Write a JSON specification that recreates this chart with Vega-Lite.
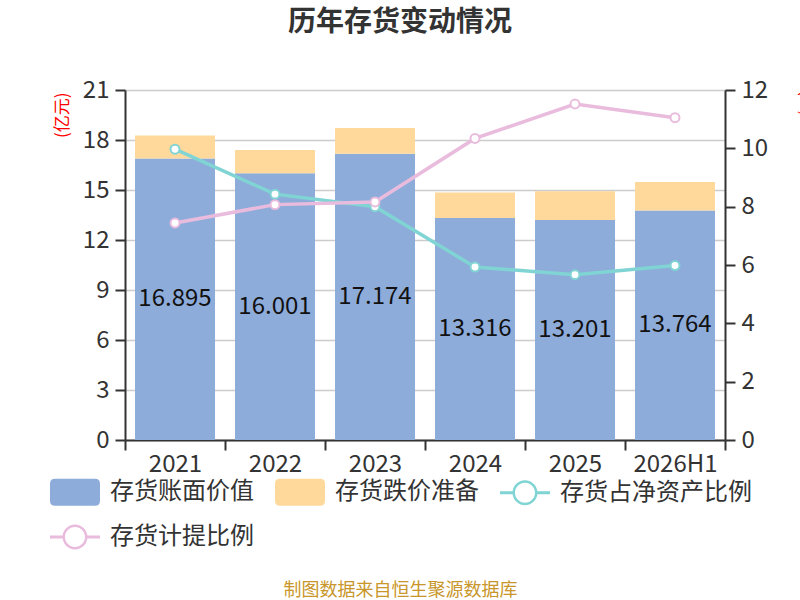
{
  "$schema": "https://vega.github.io/schema/vega-lite/v6.json",
  "autosize": {"type": "none"},
  "width": 600,
  "height": 350,
  "padding": {"left": 125, "top": 90, "right": 75, "bottom": 160},
  "background": "white",
  "config": {
    "font": "Noto Sans CJK SC",
    "view": {"stroke": null},
    "axis": {
      "labelFont": "Noto Sans CJK SC",
      "labelFontSize": 24,
      "labelColor": "#333333",
      "domainColor": "#333333",
      "domainWidth": 2,
      "tickColor": "#333333",
      "tickWidth": 2,
      "tickSize": 10,
      "titleFont": "Noto Sans CJK SC",
      "titleFontWeight": "normal"
    }
  },
  "title": {
    "text": "历年存货变动情况",
    "fontSize": 28,
    "fontWeight": "bold",
    "color": "#333333",
    "anchor": "middle",
    "dx": -25,
    "offset": 41
  },
  "data": {
    "values": [
      {"年份": "2021", "存货账面价值": 16.895, "存货跌价准备": 1.37, "存货占净资产比例": 9.97, "存货计提比例": 7.44},
      {"年份": "2022", "存货账面价值": 16.001, "存货跌价准备": 1.40, "存货占净资产比例": 8.43, "存货计提比例": 8.07},
      {"年份": "2023", "存货账面价值": 17.174, "存货跌价准备": 1.55, "存货占净资产比例": 8.00, "存货计提比例": 8.16},
      {"年份": "2024", "存货账面价值": 13.316, "存货跌价准备": 1.53, "存货占净资产比例": 5.93, "存货计提比例": 10.34},
      {"年份": "2025", "存货账面价值": 13.201, "存货跌价准备": 1.73, "存货占净资产比例": 5.67, "存货计提比例": 11.52},
      {"年份": "2026H1", "存货账面价值": 13.764, "存货跌价准备": 1.71, "存货占净资产比例": 5.98, "存货计提比例": 11.05}
    ]
  },
  "encoding": {
    "x": {
      "field": "年份",
      "type": "nominal",
      "sort": null,
      "scale": {"paddingInner": 0, "paddingOuter": 0},
      "axis": {
        "labelAngle": 0,
        "labelPadding": 2,
        "tickBand": "extent",
        "grid": false,
        "title": "制图数据来自恒生聚源数据库",
        "titleColor": "#c8962a",
        "titleFontSize": 18,
        "titleX": 275,
        "titleY": 150,
        "titleAlign": "center",
        "titleBaseline": "middle",
        "titleAngle": 0
      }
    }
  },
  "layer": [
    {
      "transform": [{"fold": ["存货账面价值", "存货跌价准备"], "as": ["系列", "数值"]}],
      "mark": {"type": "bar", "width": {"band": 0.8}},
      "encoding": {
        "y": {
          "field": "数值",
          "type": "quantitative",
          "stack": "zero",
          "scale": {"domain": [0, 21], "nice": false},
          "axis": {
            "orient": "left",
            "values": [0, 3, 6, 9, 12, 15, 18, 21],
            "grid": true,
            "gridColor": "#cccccc",
            "gridWidth": 1.5,
            "labelPadding": 6,
            "title": "(亿元)",
            "titleColor": "#ff0000",
            "titleFontSize": 17,
            "titleAngle": -90,
            "titleX": -63,
            "titleY": 2,
            "titleAlign": "right",
            "titleBaseline": "middle"
          }
        },
        "color": {
          "field": "系列",
          "type": "nominal",
          "scale": {
            "domain": ["存货账面价值", "存货跌价准备", "存货占净资产比例", "存货计提比例"],
            "range": ["#8eacda", "#fed99b", "#80d4d4", "#e9bbdd"]
          },
          "legend": {
            "title": null,
            "orient": "none",
            "legendX": -75,
            "legendY": 377,
            "direction": "horizontal",
            "columns": 3,
            "columnPadding": 21,
            "rowPadding": 6,
            "padding": 0,
            "labelFontSize": 24,
            "labelColor": "#333333",
            "labelFont": "Noto Sans CJK SC",
            "labelLimit": 400,
            "labelOffset": 10,
            "symbolSize": 2500,
            "symbolStrokeWidth": 0,
            "symbolOpacity": 1,
            "encode": {
              "symbols": {
                "update": {
                  "shape": {"signal": "(datum.value == '存货账面价值' || datum.value == '存货跌价准备') ? 'M-0.8,-0.54 H0.8 Q1,-0.54 1,-0.34 V0.34 Q1,0.54 0.8,0.54 H-0.8 Q-1,0.54 -1,0.34 V-0.34 Q-1,-0.54 -0.8,-0.54 Z' : 'M-1,-0.06 H-0.49 V0.06 H-1 Z M0.49,-0.06 H1 V0.06 H0.49 Z M0.5,0 A0.5,0.5 0 1,1 -0.5,0 A0.5,0.5 0 1,1 0.5,0 Z M0.4,0 A0.4,0.4 0 1,0 -0.4,0 A0.4,0.4 0 1,0 0.4,0 Z'"},
                  "strokeWidth": {"value": 0},
                  "opacity": {"value": 1}
                }
              }
            }
          }
        },
        "order": {"field": "系列", "sort": "ascending"}
      }
    },
    {
      "mark": {"type": "text", "fontSize": 24, "color": "#111111", "baseline": "middle", "align": "center", "font": "Noto Sans CJK SC"},
      "encoding": {
        "y": {
          "field": "存货账面价值",
          "type": "quantitative",
          "scale": {"domain": [0, 42], "nice": false},
          "axis": null
        },
        "text": {"field": "存货账面价值", "type": "quantitative", "format": ".3f"}
      }
    },
    {
      "transform": [{"fold": ["存货占净资产比例", "存货计提比例"], "as": ["系列", "数值"]}],
      "encoding": {
        "y": {
          "field": "数值",
          "type": "quantitative",
          "scale": {"domain": [0, 12], "nice": false},
          "axis": {
            "orient": "right",
            "values": [0, 2, 4, 6, 8, 10, 12],
            "grid": false,
            "labelPadding": 6,
            "title": "(%)",
            "titleColor": "#ff0000",
            "titleFontSize": 16,
            "titleAngle": 90,
            "titleX": 80,
            "titleY": 0,
            "titleAlign": "left",
            "titleBaseline": "middle"
          }
        },
        "color": {"field": "系列", "type": "nominal"}
      },
      "layer": [
        {"mark": {"type": "line", "strokeWidth": 3.5}},
        {"mark": {"type": "point", "filled": false, "fill": "#ffffff", "fillOpacity": 1, "opacity": 1, "size": 80, "strokeWidth": 2}}
      ]
    }
  ],
  "resolve": {"scale": {"y": "independent"}}
}
